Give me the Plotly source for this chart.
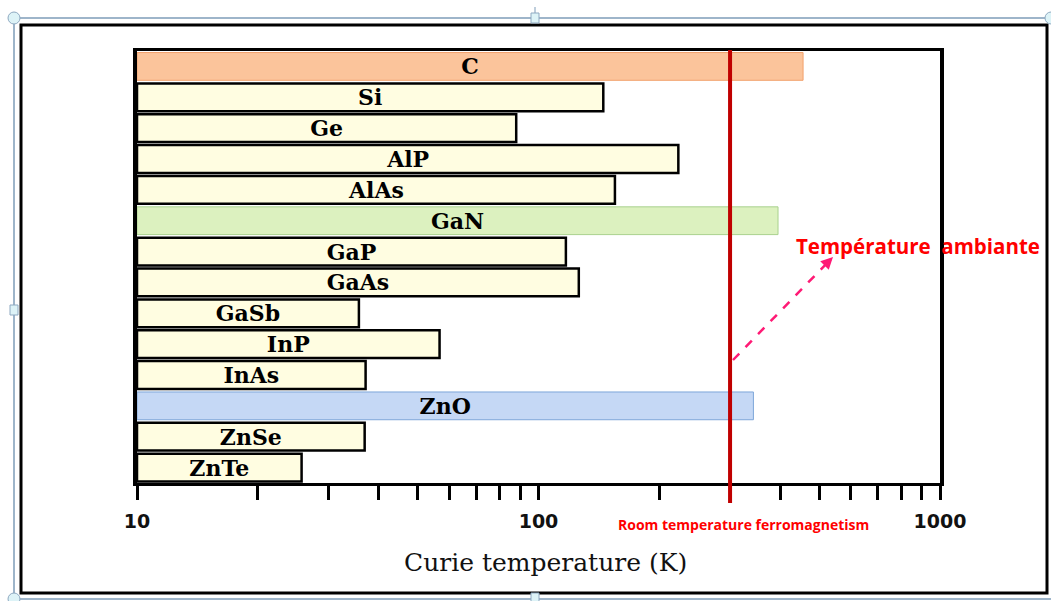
import plotly.graph_objects as go

materials = ["C", "Si", "Ge", "AlP", "AlAs", "GaN", "GaP", "GaAs", "GaSb", "InP", "InAs", "ZnO", "ZnSe", "ZnTe"]
curie_temps = [456, 145, 88, 223, 155, 395, 117, 126, 35.7, 56.7, 37.1, 343, 36.9, 25.7]
fill_colors = ["#FBC49B", "#FFFDE1", "#FFFDE1", "#FFFDE1", "#FFFDE1", "#DCF1BF", "#FFFDE1",
               "#FFFDE1", "#FFFDE1", "#FFFDE1", "#FFFDE1", "#C5D8F5", "#FFFDE1", "#FFFDE1"]
edge_colors = ["#F2A26C", "#000000", "#000000", "#000000", "#000000", "#A9D18E", "#000000",
               "#000000", "#000000", "#000000", "#000000", "#7EA6D9", "#000000", "#000000"]
edge_widths = [1, 2.5, 2.5, 2.5, 2.5, 1, 2.5, 2.5, 2.5, 2.5, 2.5, 1, 2.5, 2.5]
axis_base = 10
room_temperature = 300
tick_values = [10, 100, 1000]
tick_labels = ["10", "100", "1000"]
minor_ticks = [20, 30, 40, 50, 60, 70, 80, 90, 200, 300, 400, 500, 600, 700, 800, 900]

W, H = 1051, 601
L, R, T, B = 137, 940, 51, 483


def px(x):
    return (x - L) / (R - L)


def py(y):
    return (B - y) / (B - T)


fig = go.Figure()
fig.add_trace(go.Bar(
    y=materials,
    x=[v - axis_base for v in curie_temps],
    base=axis_base,
    orientation="h",
    width=0.9,
    marker=dict(color=fill_colors, line=dict(color=edge_colors, width=edge_widths)),
    text=materials,
    textposition="inside",
    insidetextanchor="middle",
    textangle=0,
    constraintext="none",
    textfont=dict(family="DejaVu Serif", size=22, color="black", weight="bold"),
    cliponaxis=False,
    hoverinfo="skip",
))

shapes = []
# room temperature line
shapes.append(dict(type="line", xref="x", yref="paper", x0=room_temperature, x1=room_temperature,
                   y0=py(503), y1=py(50), line=dict(color="#C00000", width=4), layer="above"))
# dashed pink arrow shaft
shapes.append(dict(type="line", xref="paper", yref="paper", x0=px(733), y0=py(360), x1=px(830), y1=py(260),
                   line=dict(color="#FF1A75", width=2.5, dash="dash"), layer="above"))
# outer black frame
shapes.append(dict(type="rect", xref="paper", yref="paper", x0=px(21), x1=px(1047), y0=py(593), y1=py(25),
                   line=dict(color="black", width=3), layer="below"))
# selection box (blue-grey)
shapes.append(dict(type="rect", xref="paper", yref="paper", x0=px(14), x1=px(1054), y0=py(599), y1=py(18),
                   line=dict(color="#7F9DB9", width=1.5), layer="below"))
shapes.append(dict(type="line", xref="paper", yref="paper", x0=px(535), x1=px(535), y0=py(18), y1=py(7),
                   line=dict(color="#7F9DB9", width=1)))
for cx, cy in [(14, 18), (1051, 18), (14, 599)]:
    shapes.append(dict(type="circle", xref="paper", yref="paper", x0=px(cx - 6), x1=px(cx + 6),
                       y0=py(cy + 6), y1=py(cy - 6), fillcolor="#DDF3F7", line=dict(color="#8EA9C1", width=1)))
for cx, cy in [(535, 18), (14, 310), (535, 598)]:
    shapes.append(dict(type="rect", xref="paper", yref="paper", x0=px(cx - 4), x1=px(cx + 4),
                       y0=py(cy + 5), y1=py(cy - 5), fillcolor="#DDF3F7", line=dict(color="#8EA9C1", width=1)))

annotations = [
    dict(text="Curie temperature (K)", xref="paper", yref="paper", x=px(545), y=py(562),
         showarrow=False, font=dict(family="DejaVu Serif", size=25, color="#111111"),
         xanchor="center", yanchor="middle"),
    dict(text="Room temperature ferromagnetism", xref="paper", yref="paper", x=px(743), y=py(524),
         showarrow=False, font=dict(family="Open Sans", size=14, color="#FF0000", weight="bold"),
         xanchor="center", yanchor="middle"),
    dict(text="Température  ambiante", xref="paper", yref="paper", x=px(794), y=py(246),
         showarrow=False, font=dict(family="Open Sans", size=20.5, color="#FF0000", weight="bold"),
         xanchor="left", yanchor="middle"),
    dict(text="", xref="paper", yref="paper", x=px(833), y=py(257), ax=-10, ay=10,
         showarrow=True, arrowhead=2, arrowsize=1.2, arrowwidth=2, arrowcolor="#FF1A75"),
]

fig.update_layout(
    width=W, height=H,
    margin=dict(l=L, r=W - R, t=T, b=H - B, pad=0),
    paper_bgcolor="white", plot_bgcolor="white",
    showlegend=False,
    bargap=0.1,
    shapes=shapes,
    annotations=annotations,
    xaxis=dict(
        type="log", range=[1, 3],
        tickvals=tick_values, ticktext=tick_labels,
        ticks="outside", ticklen=14, tickwidth=3, tickcolor="black",
        minor=dict(tickvals=minor_ticks, ticks="outside", ticklen=14, tickwidth=3, tickcolor="black"),
        showline=True, linecolor="black", linewidth=3, mirror=True,
        showgrid=False, zeroline=False,
        tickfont=dict(family="DejaVu Sans", size=19, color="#111111", weight="bold"),
        ticklabelstandoff=5,
    ),
    yaxis=dict(
        autorange="reversed",
        showticklabels=False, ticks="",
        showline=True, linecolor="black", linewidth=4, mirror=True,
        showgrid=False, zeroline=False,
    ),
)

fig.write_html("out.html")
